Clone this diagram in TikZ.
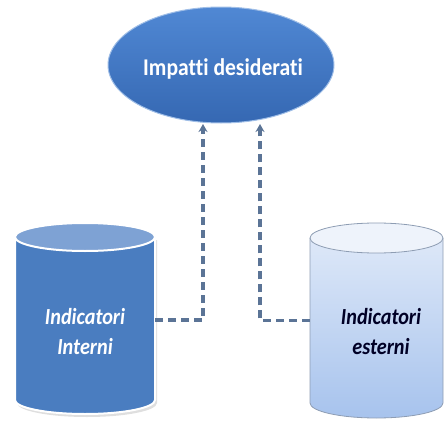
\documentclass[tikz,border=0pt]{standalone}
\usepackage{fontspec}
\setmainfont[Ligatures={NoCommon}]{Carlito}
\usetikzlibrary{shapes.geometric,arrows.meta}
\definecolor{ellblue}{HTML}{3A71C2}
\definecolor{ellhi}{HTML}{5088D4}
\definecolor{cylblue}{HTML}{4A7DC0}
\definecolor{cyltop}{HTML}{7EA2D4}
\definecolor{ltop}{HTML}{E2EBF9}
\definecolor{lbot}{HTML}{A7C3ED}
\definecolor{lrim}{HTML}{8E9DB3}
\definecolor{conncol}{HTML}{5B7496}
\newcommand{\narrow}[1]{\scalebox{0.88}[1]{#1}}
\tikzset{
  conn/.style={draw=conncol, line width=3.2pt, dash pattern=on 8pt off 5pt},
  arr/.style={-{Stealth[length=8pt,width=9pt]}},
  lbl/.style={font=\fontsize{23}{30}\selectfont\bfseries\itshape, align=center, inner sep=0pt},
  box/.style={inner sep=0pt, minimum width=140pt}
}
\begin{document}
\begin{tikzpicture}[x=1pt,y=-1pt]
\useasboundingbox (0,0) rectangle (445,423);
% ellipse
\node[ellipse, minimum width=226pt, minimum height=116pt, top color=ellhi, bottom color=ellblue!92!black, draw=ellhi!55!white, line width=1pt] (E) at (221,65) {};
\node[text=white, font=\fontsize{24}{28}\selectfont\bfseries, inner sep=0pt] (Et) at (223,69) {\scalebox{0.9}[1]{Impatti desiderati}};
% left cylinder
\fill[gray!25] (17,240) -- (17,403) arc[start angle=180,end angle=0,x radius=70,y radius=14] -- (157,240) -- cycle;
\draw[white, line width=2pt, fill=cylblue] (15,237) -- (15,400) arc[start angle=180,end angle=0,x radius=70,y radius=14] -- (155,237) arc[start angle=0,end angle=-180,x radius=70,y radius=14] -- cycle;
\draw[white, line width=2pt, fill=cyltop] (85,237) ellipse[x radius=70,y radius=14];
\node[box, minimum height=163pt] (Lcyl) at (85,320) {};
\node[lbl, text=white] (Lt) at (85,332) {\narrow{Indicatori}\\\narrow{Interni}};
% right cylinder
\shade[top color=ltop, bottom color=lbot] (310,238) -- (310,403) arc[start angle=180,end angle=0,x radius=66.5,y radius=15] -- (443,238) arc[start angle=0,end angle=-180,x radius=66.5,y radius=15] -- cycle;
\draw[lrim, line width=0.8pt] (310,238) -- (310,403) arc[start angle=180,end angle=0,x radius=66.5,y radius=15] -- (443,238);
\draw[draw=lrim, line width=0.8pt, fill=ltop!60!white] (376.5,238) ellipse[x radius=66.5,y radius=15];
\node[box, minimum width=133pt, minimum height=165pt] (Rcyl) at (376.5,320.5) {};
\node[lbl, text=black!85!blue] (Rt) at (381,332) {\narrow{Indicatori}\\\narrow{esterni}};
% connectors
\coordinate (a1) at (203,124);
\coordinate (a2) at (260,124);
\draw[conn, arr] (Lcyl.east) -| (a1);
\draw[conn, arr] (Rcyl.west) -| (a2);
\end{tikzpicture}
\end{document}
